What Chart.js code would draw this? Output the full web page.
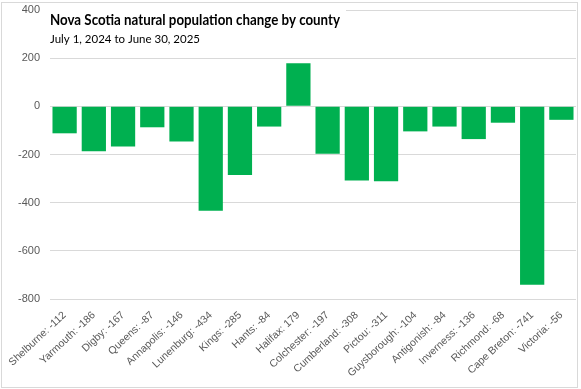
<!DOCTYPE html>
<html>
<head>
<meta charset="utf-8">
<script src="https://cdn.jsdelivr.net/npm/chart.js@4.4.1/dist/chart.umd.min.js"></script>
<style>
    body { margin: 0; background: #fff; }
</style>
</head>
<body>
<canvas id="myBarChart" width="581" height="389"></canvas>
<script>
    // dados da variação natural da população por condado
    const counties = ["Shelburne", "Yarmouth", "Digby", "Queens", "Annapolis", "Lunenburg", "Kings", "Hants",
        "Halifax", "Colchester", "Cumberland", "Pictou", "Guysborough", "Antigonish", "Inverness", "Richmond",
        "Cape Breton", "Victoria"];
    const naturalChange = [-112, -186, -167, -87, -146, -434, -285, -84, 179, -197, -308, -311, -104, -84, -136, -68, -741, -56];
    const yTicks = [-800, -600, -400, -200, 0, 200, 400];

    const chartTitle = "Nova Scotia natural population change by county";
    const chartSubtitle = "July 1, 2024 to June 30, 2025";

    let labels = counties.map((c, i) => c + ": " + naturalChange[i]);

    // escreve o texto comprimido para caber na largura desejada
    function fitText(ctx, text, x, y, width) {
        let w = ctx.measureText(text).width;
        let k = Math.min(1, width / w);
        ctx.save();
        ctx.translate(x, y);
        ctx.scale(k, 1);
        ctx.fillText(text, 0, 0);
        ctx.restore();
    }

    // titulo desenhado dentro da area do grafico, como no Excel
    const titlePlugin = {
        id: 'titleOverlay',
        afterDraw: function (chart) {
            let ctx = chart.ctx;
            ctx.save();
            ctx.fillStyle = "#fff";
            ctx.fillRect(46, 5, 300, 44);
            ctx.fillStyle = "#000";
            ctx.textBaseline = "alphabetic";
            ctx.font = "bold 15px Lato";
            fitText(ctx, chartTitle, 50, 25, 290);
            ctx.font = "12px Lato";
            fitText(ctx, chartSubtitle, 50, 43, 150);
            ctx.strokeStyle = "#d9d9d9";
            ctx.lineWidth = 1;
            ctx.strokeRect(1.5, 2.5, 576, 385);
            ctx.restore();
        }
    };

    let ctx = document.getElementById("myBarChart").getContext("2d");

    let myBarChart = new Chart(ctx, {
        type: 'bar',
        data: {
            labels: labels,
            datasets: [{
                data: naturalChange,
                backgroundColor: "#00b050",
                borderWidth: 0,
                categoryPercentage: 1,
                barPercentage: 0.83
            }]
        },
        options: {
            responsive: false,
            animation: false,
            layout: {
                autoPadding: false,
                padding: {top: 10, right: 5, bottom: 2, left: 0}
            },
            plugins: {
                legend: {display: false},
                tooltip: {enabled: false}
            },
            scales: {
                x: {
                    grid: {display: false},
                    border: {display: false},
                    ticks: {
                        color: "#595959",
                        font: {family: "Liberation Sans", size: 10.5},
                        minRotation: 43,
                        maxRotation: 43,
                        autoSkip: false,
                        padding: 2
                    },
                    afterFit: function (scale) {
                        scale.height = 88;
                        scale.paddingTop = 0;
                        scale.paddingBottom = 0;
                    }
                },
                y: {
                    min: yTicks[0],
                    max: yTicks[yTicks.length - 1],
                    afterBuildTicks: function (scale) {
                        scale.ticks = yTicks.map(v => ({value: v}));
                    },
                    grid: {color: "#d9d9d9", drawTicks: false},
                    border: {display: false},
                    ticks: {
                        color: "#595959",
                        font: {family: "Liberation Sans", size: 11},
                        padding: 10
                    },
                    afterFit: function (scale) {
                        scale.width = 50;
                        scale.paddingTop = 0;
                        scale.paddingBottom = 0;
                    }
                }
            }
        },
        plugins: [titlePlugin]
    });
</script>
</body>
</html>
